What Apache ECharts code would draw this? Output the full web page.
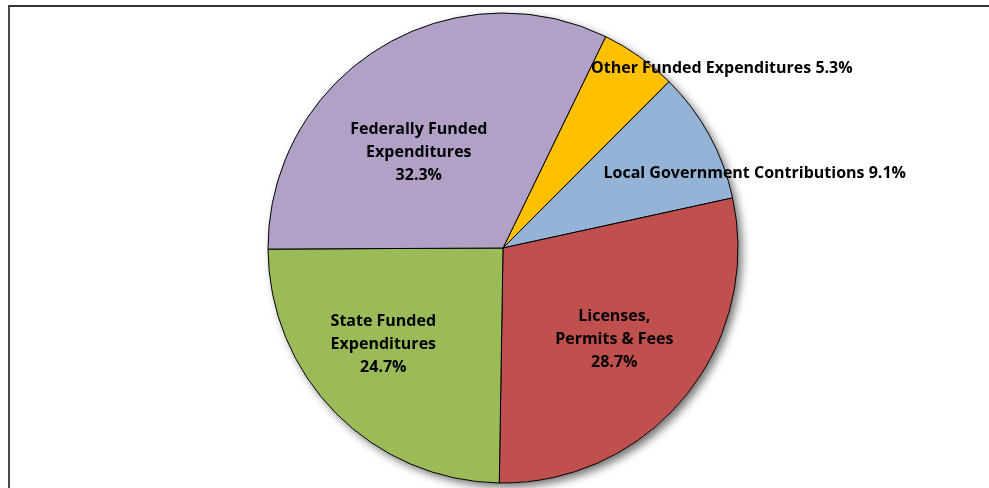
<!DOCTYPE html>
<html><head><meta charset="utf-8">
<script src="https://cdn.jsdelivr.net/npm/echarts@6/dist/echarts.min.js"></script>
<style>
html,body{margin:0;padding:0;background:#fff;}
#frame{position:absolute;left:8px;top:5px;width:990px;height:500px;border-left:2px solid #4a4a4a;border-top:2px solid #333;}
#c{position:absolute;left:0;top:0;width:989px;height:488px;}
</style></head>
<body><div id="frame"></div><div id="c"></div>
<script>
const categories = ['Other Funded Expenditures', 'Local Government Contributions', 'Licenses,\nPermits & Fees', 'State Funded\nExpenditures', 'Federally Funded\nExpenditures'];
const values = [5.3, 9.1, 28.7, 24.7, 32.3];
const colors = ['#FFC000', '#95B3D7', '#C0504D', '#9BBB59', '#B2A1C7'];
const inlineLabel = [true, true, false, false, false];
const labelShift = [[149, -81], [146, -17], [18, 15], [-34, 12], [-20, 6]];

const chart = echarts.init(document.getElementById('c'));
const center = [503, 248];
const radius = 235;
chart.setOption({
  animation: false,
  series: [
    {
      type: 'pie', silent: true, center: center, radius: radius, z: 1,
      label: {show: false}, labelLine: {show: false},
      itemStyle: {color: '#fff', shadowBlur: 8, shadowOffsetX: 4, shadowOffsetY: 4, shadowColor: 'rgba(0,0,0,0.55)'},
      data: [{value: 1}]
    },
    {
      type: 'pie', center: center, radius: radius, startAngle: 64.1, clockwise: true, z: 2,
      avoidLabelOverlap: false,
      label: {
        show: true, position: 'inside', color: '#000', fontFamily: 'Open Sans', fontWeight: 'bold',
        fontSize: 16, lineHeight: 23, align: 'center',
        formatter: p => inlineLabel[p.dataIndex] ? p.name + ' ' + p.value.toFixed(1) + '%' : p.name + '\n' + p.value.toFixed(1) + '%'
      },
      labelLine: {show: false},
      labelLayout: p => ({dx: labelShift[p.dataIndex][0], dy: labelShift[p.dataIndex][1]}),
      itemStyle: {borderColor: '#000', borderWidth: 1},
      data: categories.map((n, i) => ({name: n, value: values[i], itemStyle: {color: colors[i]}}))
    }
  ]
});
</script></body></html>
